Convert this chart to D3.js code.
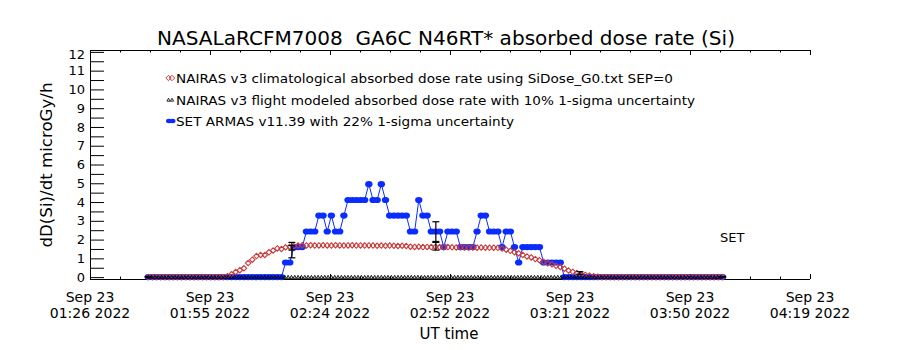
<!DOCTYPE html>
<html><head><meta charset="utf-8">
<script src="https://cdn.jsdelivr.net/npm/d3@7"></script>
<style>
body{margin:0;background:#fff}
svg{display:block}
text{font-family:"DejaVu Sans",sans-serif;fill:#000;white-space:pre}
</style>
</head><body>
<svg id="chart" width="900" height="350"></svg>
<script>
// ---------- text ----------
const titleText = "NASALaRCFM7008  GA6C N46RT* absorbed dose rate (Si)";
const yLabelText = "dD(Si)/dt microGy/h";
const xLabelText = "UT time";
const legendLabels = [
  "NAIRAS v3 climatological absorbed dose rate using SiDose_G0.txt SEP=0",
  "NAIRAS v3 flight modeled absorbed dose rate with 10% 1-sigma uncertainty",
  "SET ARMAS v11.39 with 22% 1-sigma uncertainty"
];
const annotationText = "SET";
const xTickDates = ["Sep 23","Sep 23","Sep 23","Sep 23","Sep 23","Sep 23","Sep 23"];
const xTickTimes = ["01:26 2022","01:55 2022","02:24 2022","02:52 2022","03:21 2022","03:50 2022","04:19 2022"];
const yTickLabels = [0,1,2,3,4,5,6,7,8,9,10,11,12];

// ---------- axes domains (minutes after 01:26 UT) ----------
const xDomainMinutes = [0, 173];
const yDomain = [-0.1, 12.1];

// ---------- data (one sample per minute, starting at the given minute) ----------
const climStart = 14;
const climatological = [
  0,0,0,0,0,0,0,0,0,0,0,0,0,0,0,0,0,0,
  0,
  0.05,0.15,0.27,0.37,0.47,0.75,0.93,1.12,1.18,1.18,1.32,1.42,1.53,1.50,1.59,1.62,1.64,
  1.68,1.70,1.69,1.70,1.68,1.69,1.70,1.69,1.68,1.70,1.69,1.68,1.69,1.70,1.68,1.69,1.68,1.69,1.68,1.67,1.68,1.67,1.68,1.67,1.66,1.67,1.66,
  1.62,1.61,1.62,1.60,1.61,1.60,1.61,1.60,1.59,1.60,1.59,1.58,1.59,1.58,1.57,1.58,1.57,1.58,1.57,1.56,1.57,1.56,
  1.52,1.46,1.40,1.33,1.27,1.18,1.10,1.05,0.96,0.90,0.81,0.74,0.68,0.60,0.54,0.45,0.35,0.28,0.22,0.16,0.12,0.08,0.05,0.02,
  0,0,0,0,0,0,0,0,0,0,0,0,0,0,0,0,0,0,0,0,0,0,0,0,0,0,0,0,0,0
];

const setStart = 14;
const setArmas = [
  0,0,0,0,0,0,0,0,0,0,0,0,0,0,0,0,0,0,0,0,0,0,0,0,0,0,0,0,0,0,0,0,0,
  0.78,0.78,1.6,1.6,1.6,2.43,2.43,2.43,3.28,3.28,2.43,3.28,2.43,2.43,3.28,
  4.11,4.11,4.11,4.11,4.11,4.95,4.11,4.11,4.95,4.11,
  3.28,3.28,3.28,3.28,3.28,2.43,2.43,4.11,3.28,3.28,2.43,2.43,2.43,1.6,
  2.43,2.43,2.43,1.6,1.6,1.6,1.6,2.43,3.28,3.28,2.43,2.43,2.43,1.6,2.43,2.43,1.6,0.78,
  1.6,1.6,1.6,1.6,1.6,0.78,0.78,0.78,0.78,0.78,
  0,0,0,0,0,0,0,0,0,0,0,0,0,0,0,0,0,0,0,0,0,0,0,0,0,0,0,0,0,0,0,0,0,0,0,0,0,0,0
];

const flightStart = 14;
const flightStep = 0.8;
const flightModeled = [
  0,0,0,0,0,0,0,0,0,0,0,0,0,0,0,0,0,0,0,0,
  0,0,0,0,0,0,0,0,0,0,0,0,0,0,0,0,0,0,0,0,
  0,0,0,0,0,0,0,0,0,0,0,0,0,0,0,0,0,0,0,0,
  0,0,0,0,0,0,0,0,0,0,0,0,0,0,0,0,0,0,0,0,
  0,0,0,0,0,0,0,0,0,0,0,0,0,0,0,0,0,0,0,0,
  0,0,0,0,0,0,0,0,0,0,0,0,0,0,0,0,0,0,0,0,
  0,0,0,0,0,0,0,0,0,0,0,0,0,0,0,0,0,0,0,0,
  0,0,0,0,0,0,0,0,0,0,0,0,0,0,0,0,0,0,0,0,
  0,0,0,0,0,0,0,0,0,0,0,0,0
];

// error bars: minute, low, high
const errMinutes = [14, 48.5, 48.5, 83.1, 83.1, 117.7, 152];
const errLow     = [0,  1.03, 1.44, 1.90, 1.44, 0.16, 0];
const errHigh    = [0.03, 1.85, 1.68, 2.95, 1.85, 0.29, 0.03];

// ---------- drawing ----------
const svg = d3.select("#chart");
const x = d3.scaleLinear().domain(xDomainMinutes).range([90, 810]);
const y = d3.scaleLinear().domain(yDomain).range([279, 50]);

const blue = "#0a2cff", red = "#c83a3a";

// title
svg.append("text").attr("x", 157).attr("y", 45)
  .attr("font-size", 19).attr("textLength", 578).attr("lengthAdjust", "spacingAndGlyphs")
  .text(titleText);

// axes
const majorX = d3.range(7).map(i => xDomainMinutes[0] + i * (xDomainMinutes[1] - xDomainMinutes[0]) / 6);
const minorX = d3.range(25).map(i => xDomainMinutes[0] + i * (xDomainMinutes[1] - xDomainMinutes[0]) / 24);
const yTicks = d3.range(0, 12.001, 0.5);

function styleAxis(g){ g.select(".domain").remove(); g.selectAll("line").attr("stroke","#000"); }

svg.append("g").attr("transform","translate(0,279)")
  .call(d3.axisBottom(x).tickValues(minorX).tickSize(-2.5).tickFormat("")).call(styleAxis);
svg.append("g").attr("transform","translate(0,279)")
  .call(d3.axisBottom(x).tickValues(majorX).tickSize(-5).tickFormat("")).call(styleAxis);
svg.append("g").attr("transform","translate(0,50)")
  .call(d3.axisTop(x).tickValues(minorX).tickSize(-2.5).tickFormat("")).call(styleAxis);
svg.append("g").attr("transform","translate(0,50)")
  .call(d3.axisTop(x).tickValues(majorX).tickSize(-5).tickFormat("")).call(styleAxis);

const yl = svg.append("g").attr("transform","translate(90,0)")
  .call(d3.axisLeft(y).tickValues(yTicks).tickSize(-14).tickPadding(5)
    .tickFormat(d => yTickLabels.includes(d) ? String(d) : ""))
  .call(styleAxis);
yl.selectAll("text").attr("font-size", 13).attr("font-family", "DejaVu Sans, sans-serif")
  .attr("transform", d => d === 12 ? "translate(0,2)" : null);

// axis lines: left, bottom, top
const axl = svg.append("g").attr("stroke","#000").attr("stroke-width",1).attr("shape-rendering","crispEdges");
axl.append("line").attr("x1",90.5).attr("x2",90.5).attr("y1",50).attr("y2",279.5);
axl.append("line").attr("x1",90).attr("x2",810).attr("y1",279.5).attr("y2",279.5);
axl.append("line").attr("x1",90).attr("x2",810).attr("y1",50.5).attr("y2",50.5);

// x tick labels
majorX.forEach((m, i) => {
  svg.append("text").attr("x", x(m)).attr("y", 302).attr("text-anchor","middle")
    .attr("font-size", 14).text(xTickDates[i]);
  svg.append("text").attr("x", x(m)).attr("y", 318).attr("text-anchor","middle")
    .attr("font-size", 14).text(xTickTimes[i]);
});
svg.append("text").attr("x", 449).attr("y", 339).attr("text-anchor","middle")
  .attr("font-size", 15).text(xLabelText);

// y label
svg.append("text").attr("transform","translate(52,165) rotate(-90)").attr("text-anchor","middle")
  .attr("font-size", 15).attr("textLength", 165).attr("lengthAdjust","spacingAndGlyphs")
  .text(yLabelText);

// data
const setPts = setArmas.map((v, i) => ({t: setStart + i, v}));
const climPts = climatological.map((v, i) => ({t: climStart + i, v}));
const flightPts = flightModeled.map((v, i) => ({t: flightStart + i * flightStep, v}));

svg.append("path").datum(setPts)
  .attr("d", d3.line().x(d => x(d.t)).y(d => y(d.v)))
  .attr("fill","none").attr("stroke", blue).attr("stroke-width", 1);
svg.append("g").selectAll("ellipse").data(setPts).join("ellipse")
  .attr("cx", d => x(d.t)).attr("cy", d => y(d.v)).attr("rx", 3.7).attr("ry", 3.1).attr("fill", blue);

const diamond = "M0,-2.7L2.7,0L0,2.7L-2.7,0Z";
svg.append("g").selectAll("path").data(climPts).join("path")
  .attr("transform", d => `translate(${x(d.t)},${y(d.v)})`).attr("d", diamond)
  .attr("fill","none").attr("stroke", red).attr("stroke-width", 1.1);

const tri = "M0,-1.8L1.6,1.2L-1.6,1.2Z";
svg.append("g").selectAll("path").data(flightPts).join("path")
  .attr("transform", d => `translate(${x(d.t)},${y(d.v)})`).attr("d", tri)
  .attr("fill","none").attr("stroke", "#000").attr("stroke-width", 0.9);

const eb = svg.append("g").attr("stroke","#000").attr("stroke-width",1.2);
errMinutes.forEach((m, i) => {
  const cx = x(m), y0 = y(errLow[i]), y1 = y(errHigh[i]);
  eb.append("line").attr("x1",cx).attr("x2",cx).attr("y1",y0).attr("y2",y1);
  eb.append("line").attr("x1",cx-3.5).attr("x2",cx+3.5).attr("y1",y0).attr("y2",y0);
  eb.append("line").attr("x1",cx-3.5).attr("x2",cx+3.5).attr("y1",y1).attr("y2",y1);
});

// annotation
svg.append("text").attr("x", 720).attr("y", 242).attr("font-size", 13).text(annotationText);

// legend
const legY = [78, 100, 121];
const leg = svg.append("g");
[168.5, 172].forEach(lx => {
  leg.append("path").attr("transform", `translate(${lx},${legY[0]})`).attr("d", diamond)
    .attr("fill","none").attr("stroke", red);
  leg.append("path").attr("transform", `translate(${lx},${legY[1]})`).attr("d", tri)
    .attr("fill","none").attr("stroke", "#000").attr("stroke-width", 0.8);
  leg.append("ellipse").attr("cx", lx + 0.5).attr("cy", legY[2]).attr("rx", 3).attr("ry", 2.2).attr("fill", blue);
});
const legLen = [497, 519, 338];
legendLabels.forEach((t, i) => {
  leg.append("text").attr("x", 176).attr("y", legY[i] + 5).attr("font-size", 13)
    .attr("textLength", legLen[i]).attr("lengthAdjust","spacingAndGlyphs").text(t);
});
</script>
</body></html>
